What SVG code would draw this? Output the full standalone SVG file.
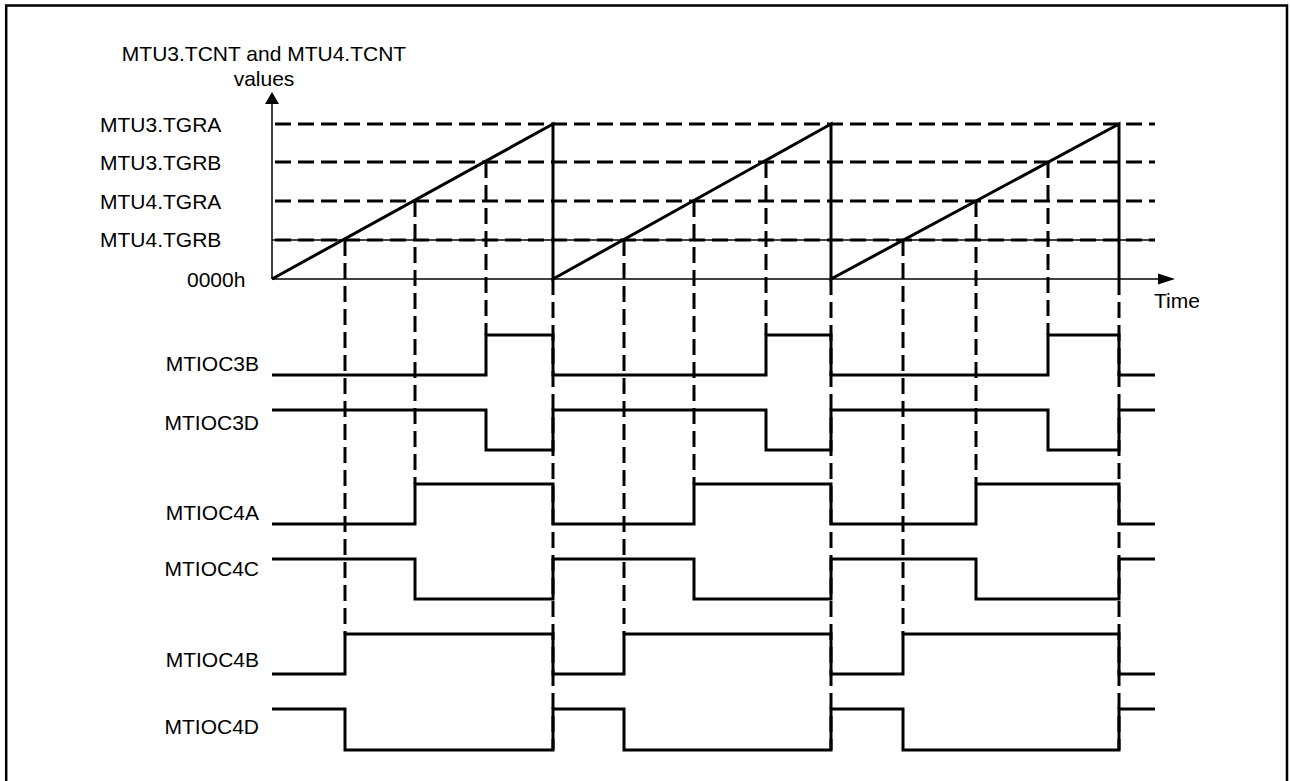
<svg xmlns="http://www.w3.org/2000/svg" width="1290" height="781" viewBox="0 0 1290 781">
<style>
  text { font-family: "Liberation Sans", Arial, sans-serif; font-size: 21px; fill: #000; }
  .thin { fill: none; stroke: #000; stroke-width: 1.5; }
  .thick { fill: none; stroke: #000; stroke-width: 3; stroke-linejoin: miter; }
  .dash { fill: none; stroke: #000; stroke-width: 3; stroke-dasharray: 16 7; }
  .frame { fill: none; stroke: #000; stroke-width: 2.5; }
</style>
<rect width="1290" height="781" fill="#fff"/>
<path class="frame" d="M6.2,800 V5.5 H1287 V800"/>

<g id="axis-title">
  <text x="264" y="61" text-anchor="middle">MTU3.TCNT and MTU4.TCNT</text>
  <text x="264" y="86" text-anchor="middle">values</text>
</g>

<g id="axes">
  <line class="thin" x1="272" y1="279" x2="272" y2="102"/>
  <polygon points="272,92 265,104 279,104" fill="#000"/>
  <line class="thin" x1="272" y1="279" x2="1160" y2="279"/>
  <polygon points="1175,279 1158,273.5 1158,284.5" fill="#000"/>
  <text x="1154" y="308">Time</text>
</g>

<g id="level-labels">
  <text x="100" y="132">MTU3.TGRA</text>
  <text x="100" y="170">MTU3.TGRB</text>
  <text x="100" y="209">MTU4.TGRA</text>
  <text x="100" y="247">MTU4.TGRB</text>
  <text x="187" y="287">0000h</text>
</g>

<g id="level-lines">
  <line class="thin" x1="272" y1="240" x2="1155" y2="240"/>
  <line class="dash" x1="275" y1="124" x2="1155" y2="124"/>
  <line class="dash" x1="275" y1="162" x2="1155" y2="162"/>
  <line class="dash" x1="275" y1="201" x2="1155" y2="201"/>
  <line class="dash" x1="275" y1="240" x2="1155" y2="240"/>
</g>

<g id="connectors">
  <line class="dash" x1="345" y1="240" x2="345" y2="634"/>
  <line class="dash" x1="624" y1="240" x2="624" y2="634"/>
  <line class="dash" x1="903" y1="240" x2="903" y2="634"/>
  <line class="dash" x1="415" y1="201" x2="415" y2="484"/>
  <line class="dash" x1="694" y1="201" x2="694" y2="484"/>
  <line class="dash" x1="976" y1="201" x2="976" y2="484"/>
  <line class="dash" x1="486" y1="162" x2="486" y2="335"/>
  <line class="dash" x1="766" y1="162" x2="766" y2="335"/>
  <line class="dash" x1="1048" y1="162" x2="1048" y2="335"/>
  <line class="dash" x1="553" y1="279" x2="553" y2="750"/>
  <line class="dash" x1="831" y1="279" x2="831" y2="750"/>
  <line class="dash" x1="1119" y1="279" x2="1119" y2="750"/>
</g>

<g id="tcnt-sawtooth">
  <path class="thick" d="M272,279 L553,124 V279 L831,124 V279 L1119,124 V279"/>
</g>

<g id="MTIOC3B">
  <text x="259" y="371" text-anchor="end">MTIOC3B</text>
  <path class="thick" d="M272,375 H486 V335 H553 V375 H766 V335 H831 V375 H1048 V335 H1119 V375 H1155"/>
</g>
<g id="MTIOC3D">
  <text x="259" y="430" text-anchor="end">MTIOC3D</text>
  <path class="thick" d="M272,410 H486 V450 H553 V410 H766 V450 H831 V410 H1048 V450 H1119 V410 H1155"/>
</g>
<g id="MTIOC4A">
  <text x="259" y="520" text-anchor="end">MTIOC4A</text>
  <path class="thick" d="M272,524 H415 V484 H553 V524 H694 V484 H831 V524 H976 V484 H1119 V524 H1155"/>
</g>
<g id="MTIOC4C">
  <text x="259" y="576" text-anchor="end">MTIOC4C</text>
  <path class="thick" d="M272,559 H415 V599 H553 V559 H694 V599 H831 V559 H976 V599 H1119 V559 H1155"/>
</g>
<g id="MTIOC4B">
  <text x="259" y="667" text-anchor="end">MTIOC4B</text>
  <path class="thick" d="M272,674 H345 V634 H553 V674 H624 V634 H831 V674 H903 V634 H1119 V674 H1155"/>
</g>
<g id="MTIOC4D">
  <text x="259" y="734" text-anchor="end">MTIOC4D</text>
  <path class="thick" d="M272,709 H345 V750 H553 V709 H624 V750 H831 V709 H903 V750 H1119 V709 H1155"/>
</g>
</svg>
